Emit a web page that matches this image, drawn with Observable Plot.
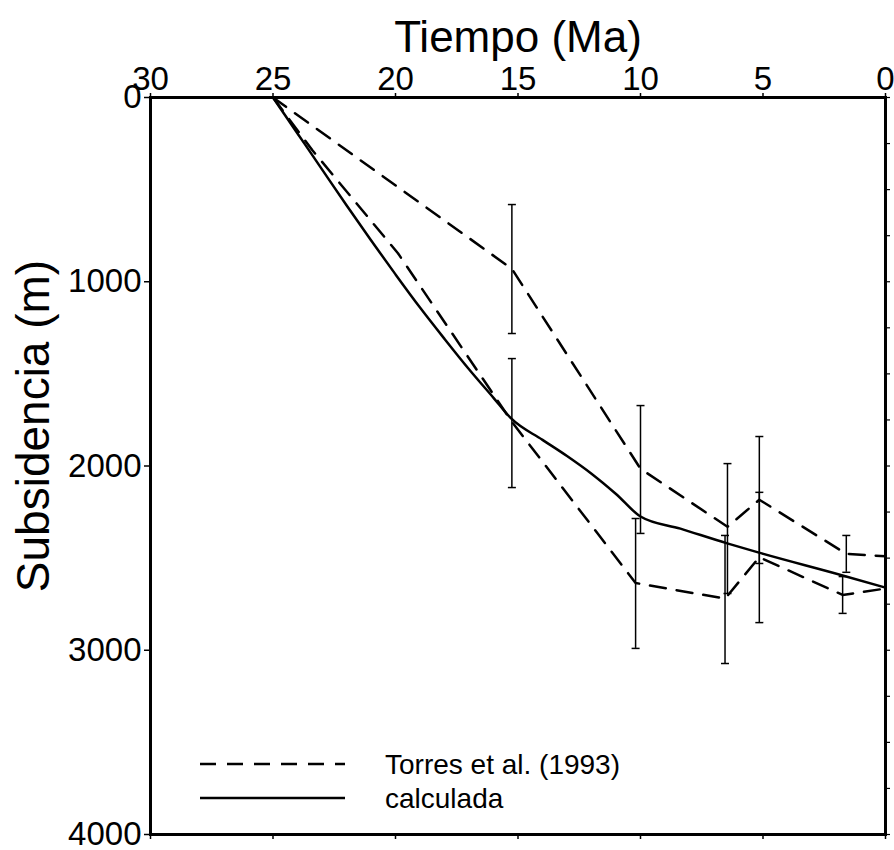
<!DOCTYPE html>
<html>
<head>
<meta charset="utf-8">
<script src="https://cdn.jsdelivr.net/npm/d3@7"></script>
<script src="https://cdn.jsdelivr.net/npm/@observablehq/plot@0.6"></script>
<style>
  html, body { margin: 0; padding: 0; background: white; }
  #wrap { position: relative; width: 894px; height: 850px; }
  #legend { position: absolute; left: 0; top: 0; pointer-events: none; }
</style>
</head>
<body>
<div id="wrap"></div>
<script>
// ---- data ----
const ageTicks = [30, 25, 20, 15, 10, 5, 0];
const depthTicks = [0, 1000, 2000, 3000, 4000];
const depthMinor = [0, 250, 500, 750, 1000, 1250, 1500, 1750, 2000, 2250, 2500, 2750, 3000, 3250, 3500, 3750, 4000];

// calculada (solid)
const calcAge   = [25, 24, 23, 22, 21, 20, 19, 18, 17, 16, 15.28, 14, 13, 12, 11, 10.0, 8.37, 6.46, 5.2, 1.75, 0];
const calcDepth = [0, 195, 390, 585, 775, 960, 1140, 1310, 1475, 1630, 1742, 1858, 1946, 2042, 2152, 2274, 2340, 2420, 2469, 2594, 2660];

// Torres et al. (1993) – upper curve
const torresAAge   = [25, 15.25, 10.0, 6.45, 5.15, 1.6, 0];
const torresADepth = [0, 930, 2015, 2330, 2183, 2477, 2490];
// Torres et al. (1993) – lower curve
const torresBAge   = [25, 23.4, 19.9, 15.25, 10.2, 6.55, 5.15, 1.75, 0];
const torresBDepth = [0, 285, 845, 1760, 2635, 2720, 2495, 2700, 2665];

// error bars
const errAgeA  = [15.25, 10.0, 6.45, 5.15, 1.6];
const errLowA  = [581, 1672, 1987, 1840, 2377];
const errHighA = [1281, 2366, 2692, 2529, 2577];
const errAgeB  = [15.25, 10.2, 6.55, 5.15, 1.75];
const errLowB  = [1417, 2285, 2377, 2143, 2600];
const errHighB = [2117, 2990, 3072, 2850, 2800];

// ---- tables ----
const zip = (xs, ys) => xs.map((x, i) => ({x, y: ys[i]}));
const calc = zip(calcAge, calcDepth);
const torA = zip(torresAAge, torresADepth);
const torB = zip(torresBAge, torresBDepth);
const errs = errAgeA.map((x, i) => ({x, lo: errLowA[i], hi: errHighA[i]}))
  .concat(errAgeB.map((x, i) => ({x, lo: errLowB[i], hi: errHighB[i]})));
const caps = errs.flatMap(d => [{x: d.x, y: d.lo}, {x: d.x, y: d.hi}]);

const capSymbol = {
  draw(ctx, size) {
    const r = Math.sqrt(size / Math.PI);
    ctx.moveTo(-r, 0); ctx.lineTo(r, 0);
  }
};

const dash = "16,11";
const font = "'Liberation Sans', Arial, Helvetica, sans-serif";

const chart = Plot.plot({
  width: 894,
  height: 850,
  marginTop: 97,
  marginLeft: 150,
  marginRight: 9,
  marginBottom: 16,
  style: {fontFamily: font, background: "white", color: "black"},
  x: {domain: [30, 0]},
  y: {domain: [0, 4000], reverse: true},
  marks: [
    Plot.axisX(ageTicks, {anchor: "top", tickSize: 5, tickPadding: 3, fontSize: 33, label: null, strokeWidth: 1.5, tickFormat: d => String(d)}),
    Plot.axisX(ageTicks, {anchor: "bottom", tickSize: 5, text: null, label: null, strokeWidth: 1.5}),
    Plot.axisY(depthTicks, {anchor: "left", tickSize: 6, tickPadding: 3, fontSize: 33, label: null, strokeWidth: 1.5, tickFormat: d => String(d)}),
    Plot.axisY(depthMinor, {anchor: "right", tickSize: 4, text: null, label: null, strokeWidth: 1.2}),
    Plot.text(["Tiempo (Ma)"], {frameAnchor: "top", dy: -60, fontSize: 44, lineAnchor: "middle", textAnchor: "middle"}),
    Plot.text(["Subsidencia (m)"], {frameAnchor: "left", rotate: -90, dx: -116, dy: -40, fontSize: 46, lineAnchor: "middle", textAnchor: "middle"}),
    Plot.ruleX(errs, {x: "x", y1: "lo", y2: "hi", stroke: "black", strokeWidth: 1.5}),
    Plot.dot(caps, {x: "x", y: "y", symbol: capSymbol, r: 4, stroke: "black", strokeWidth: 1.5, fill: "none"}),
    Plot.line(torA, {x: "x", y: "y", stroke: "black", strokeWidth: 2.5, strokeDasharray: dash}),
    Plot.line(torB, {x: "x", y: "y", stroke: "black", strokeWidth: 2.5, strokeDasharray: dash}),
    Plot.line(calc, {x: "x", y: "y", stroke: "black", strokeWidth: 2.5, curve: "monotone-x"}),
    Plot.frame({stroke: "black", strokeWidth: 3})
  ]
});
document.getElementById("wrap").appendChild(chart);

// legend overlay (inside plot area, bottom-left)
const leg = d3.select("#wrap").append("svg").attr("id", "legend")
  .attr("width", 894).attr("height", 850);
const items = [
  {label: "Torres et al. (1993)", dash: dash, cy: 764},
  {label: "calculada", dash: null, cy: 798}
];
items.forEach(it => {
  leg.append("line").attr("x1", 200).attr("x2", 345).attr("y1", it.cy).attr("y2", it.cy)
    .attr("stroke", "black").attr("stroke-width", 2.5)
    .attr("stroke-dasharray", it.dash);
  leg.append("text").attr("x", 385).attr("y", it.cy).attr("dy", "0.35em")
    .attr("font-family", font).attr("font-size", 28).attr("fill", "black")
    .text(it.label);
});
</script>
</body>
</html>
